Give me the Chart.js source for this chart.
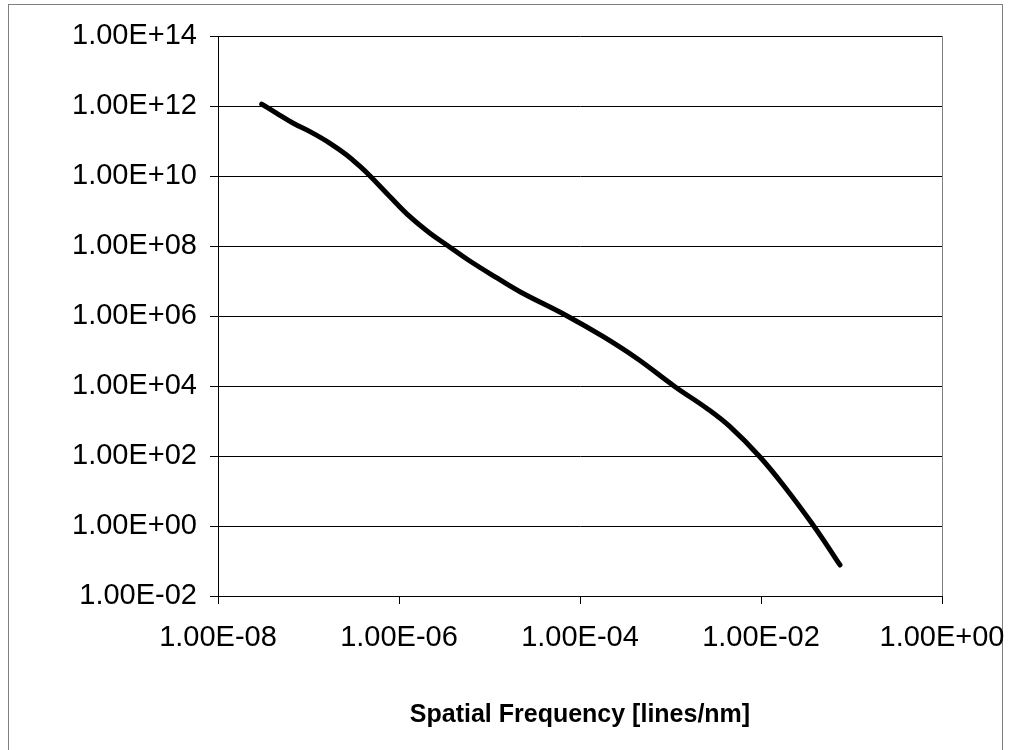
<!DOCTYPE html>
<html>
<head>
<meta charset="utf-8">
<script src="https://cdn.jsdelivr.net/npm/chart.js@4.4.1/dist/chart.umd.min.js"></script>
<style>
  body { margin: 0; background: #fff; }
  canvas { display: block; }
</style>
</head>
<body>
<canvas id="psd" width="1011" height="750"></canvas>
<script>
// spatial frequency [lines/nm] and PSD values
const freq = [3.04e-8, 4.46e-8, 6.79e-8, 1.04e-7, 1.73e-7, 2.64e-7, 3.71e-7, 4.79e-7,
              7.96e-7, 1.32e-6, 2.20e-6, 3.37e-6, 5.83e-6, 1.21e-5, 2.17e-5, 7.13e-5,
              1.81e-4, 4.23e-4, 1.12e-3, 2.51e-3, 4.54e-3, 9.75e-3, 1.94e-2, 3.76e-2,
              5.36e-2, 7.46e-2];
const psd = [1.14e12, 6.18e11, 3.21e11, 1.85e11, 8.59e10, 3.98e10, 1.87e10, 1.0e10,
             2.56e9, 6.87e8, 2.31e8, 1.07e8, 3.98e7, 1.22e7, 4.94e6, 1.02e6,
             2.56e5, 6.18e4, 9.55e3, 2.31e3, 687, 93.5, 10.7, 1.07,
             0.28, 0.0769];

const xTickValues = [1e-8, 1e-6, 1e-4, 1e-2, 1];
const xTickLabels = ['1.00E-08', '1.00E-06', '1.00E-04', '1.00E-02', '1.00E+00'];
const yTickValues = [1e-2, 1, 1e2, 1e4, 1e6, 1e8, 1e10, 1e12, 1e14];
const yTickLabels = ['1.00E-02', '1.00E+00', '1.00E+02', '1.00E+04', '1.00E+06',
                     '1.00E+08', '1.00E+10', '1.00E+12', '1.00E+14'];

function labelFor(values, labels, v) {
    for (let i = 0; i < values.length; i++) {
        if (Math.abs(Math.log10(v) - Math.log10(values[i])) < 1e-6) return labels[i];
    }
    return '';
}

// outer frame and the grey right edge of the plot area
const framePlugin = {
    id: 'frame',
    beforeDraw(chart) {
        const ctx = chart.ctx;
        ctx.save();
        ctx.fillStyle = '#fff';
        ctx.fillRect(0, 0, chart.width, chart.height);
        ctx.strokeStyle = '#808080';
        ctx.lineWidth = 1;
        ctx.strokeRect(8.5, 4.5, 994, 770);
        ctx.restore();
    },
    beforeDatasetsDraw(chart) {
        const a = chart.chartArea;
        const ctx = chart.ctx;
        ctx.save();
        ctx.strokeStyle = '#808080';
        ctx.lineWidth = 1;
        ctx.beginPath();
        ctx.moveTo(Math.round(a.right) + 0.5, a.top);
        ctx.lineTo(Math.round(a.right) + 0.5, a.bottom);
        ctx.stroke();
        ctx.restore();
    }
};

const ctx = document.getElementById('psd').getContext('2d');
const chart = new Chart(ctx, {
    type: 'scatter',
    data: {
        datasets: [{
            data: freq.map((f, i) => ({ x: f, y: psd[i] })),
            showLine: true,
            borderColor: '#000000',
            borderWidth: 5,
            borderCapStyle: 'round',
            borderJoinStyle: 'round',
            tension: 0.4,
            pointRadius: 0,
            fill: false
        }]
    },
    options: {
        responsive: false,
        animation: false,
        layout: {
            padding: { top: 36, right: 69, bottom: 0, left: 0 }
        },
        scales: {
            x: {
                type: 'logarithmic',
                min: 1e-8,
                max: 1,
                afterBuildTicks: scale => { scale.ticks = xTickValues.map(v => ({ value: v })); },
                afterFit: scale => {
                    scale.height = 154;
                    scale.paddingLeft = 0;
                    scale.paddingRight = 0;
                },
                grid: {
                    drawOnChartArea: false,
                    drawTicks: true,
                    tickLength: 8,
                    color: '#000000'
                },
                border: { color: '#000000', width: 1 },
                ticks: {
                    autoSkip: false,
                    maxRotation: 0,
                    padding: 17,
                    color: '#000000',
                    font: { family: 'Liberation Sans, Arial, sans-serif', size: 29 },
                    callback: v => labelFor(xTickValues, xTickLabels, v)
                },
                title: {
                    display: true,
                    text: 'Spatial Frequency [lines/nm]',
                    color: '#000000',
                    font: { family: 'Liberation Sans, Arial, sans-serif', size: 25, weight: 'bold' },
                    padding: { top: 0, bottom: 20 }
                }
            },
            y: {
                type: 'logarithmic',
                min: 1e-2,
                max: 1e14,
                afterBuildTicks: scale => { scale.ticks = yTickValues.map(v => ({ value: v })); },
                afterFit: scale => {
                    scale.width = 218;
                    scale.paddingTop = 0;
                    scale.paddingBottom = 0;
                },
                grid: {
                    drawTicks: true,
                    tickLength: 8,
                    color: '#000000'
                },
                border: { color: '#000000', width: 1 },
                ticks: {
                    autoSkip: false,
                    padding: 13,
                    color: '#000000',
                    font: { family: 'Liberation Sans, Arial, sans-serif', size: 29 },
                    callback: v => labelFor(yTickValues, yTickLabels, v)
                }
            }
        },
        plugins: {
            legend: { display: false },
            tooltip: { enabled: false }
        }
    },
    plugins: [framePlugin]
});
</script>
</body>
</html>
